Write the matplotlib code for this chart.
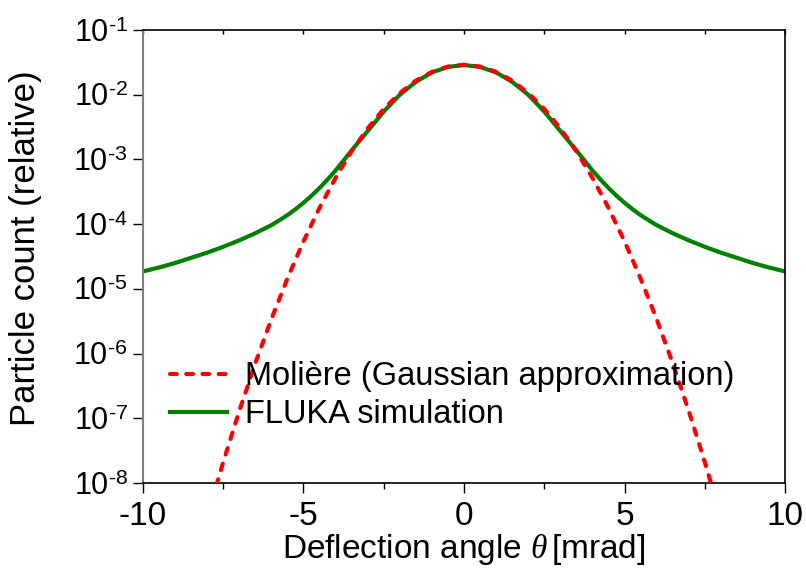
import numpy as np
import matplotlib
matplotlib.use('Agg')
import matplotlib.pyplot as plt
from matplotlib.ticker import FixedLocator, NullLocator

# values
theta = [-10, -9.5, -9, -8.5, -8, -7.5, -7, -6.5, -6, -5.75, -5.5, -5.25, -5, -4.75, -4.5, -4.25,
         -4, -3.5, -3, -2.5, -2, -1.5, -1, -0.5,
         0, 0.5, 1, 1.5, 2, 2.5, 3, 3.5,
         4, 4.25, 4.5, 4.75, 5, 5.25, 5.5, 5.75, 6, 6.5, 7, 7.5, 8, 8.5, 9, 9.5, 10]
fluka = [1.86e-5, 2.14e-5, 2.51e-5, 3.02e-5, 3.63e-5, 4.47e-5, 5.62e-5, 7.24e-5,
         9.66e-5, 1.15e-4, 1.38e-4, 1.70e-4, 2.14e-4, 2.75e-4, 3.63e-4, 4.90e-4,
         6.76e-4, 1.38e-3, 2.75e-3, 5.50e-3, 1.00e-2, 1.58e-2, 2.21e-2, 2.69e-2,
         2.88e-2,
         2.69e-2, 2.21e-2, 1.58e-2, 1.00e-2, 5.50e-3, 2.75e-3, 1.38e-3,
         6.76e-4, 4.90e-4, 3.63e-4, 2.75e-4, 2.14e-4, 1.70e-4, 1.38e-4, 1.15e-4, 9.66e-5,
         7.24e-5, 5.62e-5, 4.47e-5, 3.63e-5, 3.02e-5, 2.51e-5, 2.14e-5, 1.86e-5]

theta_g = [-8, -7.5, -7, -6.5, -6, -5.5, -5, -4.5, -4, -3.5, -3, -2.5, -2, -1.5, -1, -0.5,
           0, 0.5, 1, 1.5, 2, 2.5, 3, 3.5, 4, 4.5, 5, 5.5, 6, 6.5, 7, 7.5, 8]
moliere = [3.0e-9, 2.11e-8, 1.30e-7, 7.11e-7, 3.42e-6, 1.45e-5, 5.42e-5, 1.79e-4, 5.20e-4, 1.34e-3,
           3.02e-3, 6.03e-3, 1.06e-2, 1.65e-2, 2.25e-2, 2.72e-2,
           2.90e-2,
           2.72e-2, 2.25e-2, 1.65e-2, 1.06e-2, 6.03e-3, 3.02e-3, 1.34e-3, 5.20e-4, 1.79e-4, 5.42e-5,
           1.45e-5, 3.42e-6, 7.11e-7, 1.30e-7, 2.11e-8, 3.0e-9]

xticks = [-10, -5, 0, 5, 10]
xminor = [-7.5, -2.5, 2.5, 7.5]
yexp = [-8, -7, -6, -5, -4, -3, -2, -1]

plt.rcParams['font.family'] = ['Liberation Sans', 'DejaVu Sans']
plt.rcParams['mathtext.fontset'] = 'custom'
plt.rcParams['mathtext.rm'] = 'Liberation Sans'
plt.rcParams['mathtext.it'] = 'Liberation Serif:italic'

fig = plt.figure(figsize=(8.06, 5.74), dpi=100)
ax = fig.add_axes([0.1774, 0.1585, 0.9740 - 0.1774, 0.9477 - 0.1585])

ax.plot(theta, fluka, color='#008000', lw=3, label='FLUKA simulation', zorder=2)
ax.plot(theta_g, moliere, color='#ff0000', lw=3, dashes=(1.6, 2.3), dash_capstyle='round',
        label='Moli\u00e8re (Gaussian approximation)', zorder=3)

ax.set_yscale('log')
ax.set_xlim(-10, 10)
ax.set_ylim(1e-8, 1e-1)

ax.xaxis.set_major_locator(FixedLocator(xticks))
ax.xaxis.set_minor_locator(FixedLocator(xminor))
ax.set_xticklabels([str(t) for t in xticks])
ax.yaxis.set_major_locator(FixedLocator([10.0 ** e for e in yexp]))
ax.yaxis.set_minor_locator(NullLocator())
ax.set_yticklabels([r'$10^{\text{-}%d}$' % (-e) for e in yexp])

ax.tick_params(axis='x', which='major', direction='out', length=7, width=1, labelsize=24, pad=6,
               top=True)
ax.tick_params(axis='x', which='minor', direction='out', length=4, width=1, top=True)
ax.tick_params(axis='y', which='major', direction='out', length=7, width=1, labelsize=22, pad=4,
               right=False)

# top ticks are drawn inward and short
for t in ax.xaxis.get_major_ticks() + ax.xaxis.get_minor_ticks():
    t.tick2line.set_marker(3)
    t.tick2line.set_markersize(3)
    t.tick2line.set_color('#606060')

ax.spines['left'].set_color('#808080')
ax.spines['left'].set_linewidth(1.5)
for s in ['bottom', 'top', 'right']:
    ax.spines[s].set_color('black')
    ax.spines[s].set_linewidth(1.2)

ax.set_xlabel(r'Deflection angle $\theta\,$[mrad]', fontsize=24, labelpad=0)
ax.set_ylabel('Particle count (relative)', fontsize=25)
ax.yaxis.set_label_coords(-0.157, 0.519)

h, l = ax.get_legend_handles_labels()
ax.legend(h[::-1], l[::-1], loc='lower left', bbox_to_anchor=(0.042, 0.117), frameon=False,
          fontsize=23.5, handlelength=1.75, handletextpad=0.55, labelspacing=0.2, borderpad=0,
          borderaxespad=0)

fig.savefig('out.png', dpi=100)
